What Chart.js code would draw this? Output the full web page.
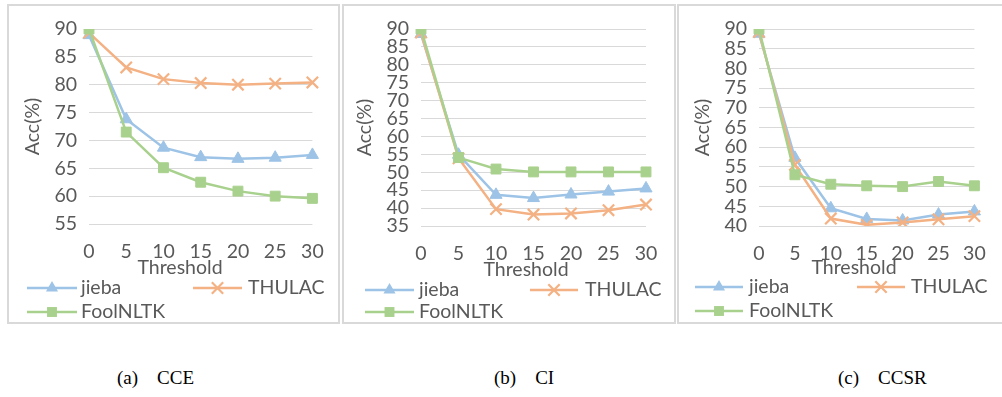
<!DOCTYPE html>
<html>
<head>
<meta charset="utf-8">
<script src="https://cdn.jsdelivr.net/npm/chart.js@4/dist/chart.umd.min.js"></script>
<style>
  html, body { margin: 0; padding: 0; background: #fff; overflow: hidden; width: 1002px; height: 397px; }
  .box { position: absolute; border: 2px solid #d9d9d9; box-sizing: border-box; }
  .wrap { position: absolute; }
  .cap { position: absolute; font-family: "Liberation Serif", "Times New Roman", serif; font-size: 19px; color: #000; white-space: pre; line-height: 22px; }
</style>
</head>
<body>
<div class="box" style="left:7px;top:4px;width:333px;height:320px;"></div>
<div class="box" style="left:342px;top:4px;width:334px;height:320px;"></div>
<div class="box" style="left:677px;top:4px;width:340px;height:320px;"></div>
<div class="wrap" id="w0" style="left:7px;top:4px;width:333px;height:320px;"><canvas id="c0"></canvas></div>
<div class="wrap" id="w1" style="left:342px;top:4px;width:334px;height:320px;"><canvas id="c1"></canvas></div>
<div class="wrap" id="w2" style="left:677px;top:4px;width:325px;height:320px;"><canvas id="c2"></canvas></div>
<div class="cap" style="left:117px;top:367px;">(a)    CCE</div>
<div class="cap" style="left:494px;top:367px;">(b)    CI</div>
<div class="cap" style="left:838px;top:367px;">(c)    CCSR</div>
<script>
// ---------- DATA ----------
const thresholds = ['0', '5', '10', '15', '20', '25', '30'];
const seriesNames = ['jieba', 'THULAC', 'FoolNLTK'];
const xTitle = 'Threshold';
const yTitle = 'Acc(%)';

const cceJieba  = [88.9, 73.8, 68.7, 67.0, 66.7, 66.9, 67.4];
const cceThulac = [89.3, 83.1, 81.0, 80.3, 80.0, 80.2, 80.4];
const cceFool   = [90.0, 71.5, 65.1, 62.5, 60.9, 60.0, 59.6];

const ciJieba   = [88.6, 54.9, 43.7, 42.8, 43.8, 44.6, 45.5];
const ciThulac  = [89.0, 53.9, 39.7, 38.2, 38.5, 39.4, 41.0];
const ciFool    = [90.0, 54.1, 50.9, 50.1, 50.1, 50.1, 50.1];

const ccsrJieba  = [88.8, 57.3, 44.5, 41.8, 41.4, 42.9, 43.7];
const ccsrThulac = [89.2, 55.5, 41.9, 40.3, 40.9, 41.7, 42.5];
const ccsrFool   = [90.0, 53.0, 50.6, 50.2, 50.0, 51.3, 50.2];

const cceTicks  = [55, 60, 65, 70, 75, 80, 85, 90];
const ciTicks   = [35, 40, 45, 50, 55, 60, 65, 70, 75, 80, 85, 90];
const ccsrTicks = [40, 45, 50, 55, 60, 65, 70, 75, 80, 85, 90];

// ---------- STYLE / LAYOUT ----------
const COLORS = ['#9DC3E6', '#F4B183', '#A9D18E'];
const STYLES = ['triangle', 'crossRot', 'rect'];
const ORDERS = [2, 1, 0];
const TEXT = '#595959';
const FONT = 'Lato, "Noto Sans", sans-serif';
const FS = 19.5;
const LH = FS * 1.2;

const panels = [
  { canvas: 'c0', box: {left: 7, top: 4, width: 333, height: 320},
    plot: {left: 89, right: 316, top: 29, bottom: 224}, ticks: cceTicks,
    data: [cceJieba, cceThulac, cceFool], titleX: 33, xTitleX: 180, xTitleY: 268, xLabelY: 251,
    legend: { row1: 288, row2: 312, items: [{x1: 27, x2: 77, tx: 81}, {x1: 193, x2: 242, tx: 248}, {x1: 27, x2: 77, tx: 81}] } },
  { canvas: 'c1', box: {left: 342, top: 4, width: 334, height: 320},
    plot: {left: 421, right: 646, top: 29, bottom: 226}, ticks: ciTicks,
    data: [ciJieba, ciThulac, ciFool], titleX: 365, xTitleX: 526, xTitleY: 270, xLabelY: 253,
    legend: { row1: 290, row2: 312, items: [{x1: 365, x2: 414, tx: 419}, {x1: 530, x2: 578, tx: 585}, {x1: 365, x2: 414, tx: 419}] } },
  { canvas: 'c2', box: {left: 677, top: 4, width: 325, height: 320},
    plot: {left: 759, right: 985, top: 29, bottom: 226}, ticks: ccsrTicks,
    data: [ccsrJieba, ccsrThulac, ccsrFool], titleX: 703, xTitleX: 854, xTitleY: 268, xLabelY: 253,
    legend: { row1: 287, row2: 311, items: [{x1: 695, x2: 743, tx: 749}, {x1: 857, x2: 905, tx: 911}, {x1: 695, x2: 743, tx: 749}] } }
];

function drawMarker(ctx, style, x, y, r, color) {
  ctx.save();
  ctx.fillStyle = color; ctx.strokeStyle = color; ctx.lineWidth = 2.2;
  ctx.beginPath();
  if (style === 'triangle') {
    let rad = 0;
    ctx.moveTo(x + Math.sin(rad) * r, y - Math.cos(rad) * r);
    rad += 2 * Math.PI / 3;
    ctx.lineTo(x + Math.sin(rad) * r, y - Math.cos(rad) * r);
    rad += 2 * Math.PI / 3;
    ctx.lineTo(x + Math.sin(rad) * r, y - Math.cos(rad) * r);
    ctx.closePath(); ctx.fill();
  } else if (style === 'rect') {
    const s = Math.SQRT1_2 * r;
    ctx.rect(x - s, y - s, 2 * s, 2 * s); ctx.fill();
  } else {
    const o = Math.SQRT1_2 * r;
    ctx.moveTo(x - o, y - o); ctx.lineTo(x + o, y + o);
    ctx.moveTo(x - o, y + o); ctx.lineTo(x + o, y - o);
    ctx.stroke();
  }
  ctx.restore();
}

const legendPlugin = {
  id: 'customLegend',
  afterDraw(chart, args, opts) {
    const ctx = chart.ctx;
    const L = opts.legend, bx = opts.box;
    ctx.save();
    ctx.fillStyle = TEXT; ctx.font = FS + 'px ' + FONT;
    ctx.textBaseline = 'middle'; ctx.textAlign = 'center';
    ctx.fillText(xTitle, opts.xTitleX - bx.left, opts.xTitleY - bx.top);
    chart.data.datasets.forEach((ds, i) => {
      const it = L.items[i];
      const y = (i < 2 ? L.row1 : L.row2) - bx.top;
      const x1 = it.x1 - bx.left, x2 = it.x2 - bx.left;
      ctx.strokeStyle = ds.borderColor; ctx.lineWidth = 2.5;
      ctx.beginPath(); ctx.moveTo(x1, y); ctx.lineTo(x2, y); ctx.stroke();
      drawMarker(ctx, ds.pointStyle, (x1 + x2) / 2, y, ds.pointRadius, ds.borderColor);
      ctx.fillStyle = TEXT; ctx.font = FS + 'px ' + FONT;
      ctx.textBaseline = 'middle'; ctx.textAlign = 'left';
      ctx.fillText(ds.label, it.tx - bx.left, y);
    });
    ctx.restore();
  }
};

panels.forEach(p => {
  const b = p.box, pl = p.plot;
  const yWidth = pl.left - b.left;
  const xHeight = p.xTitleY - pl.bottom + LH / 2;
  const padBottom = (b.top + b.height) - pl.bottom - xHeight;
  const datasets = p.data.map((vals, i) => ({
    label: seriesNames[i],
    data: vals,
    borderColor: COLORS[i],
    backgroundColor: COLORS[i],
    borderWidth: 2.5,
    pointStyle: STYLES[i],
    pointRadius: i === 1 ? 8 : 7,
    pointHoverRadius: i === 1 ? 8 : 7,
    pointBorderWidth: i === 1 ? 2.2 : 1,
    order: ORDERS[i],
    tension: 0
  }));
  new Chart(document.getElementById(p.canvas), {
    type: 'line',
    data: { labels: thresholds, datasets },
    plugins: [legendPlugin],
    options: {
      responsive: true, maintainAspectRatio: false, animation: false,
      layout: { padding: { left: 0, top: pl.top - b.top, right: (b.left + b.width) - pl.right, bottom: padBottom } },
      plugins: { legend: { display: false }, tooltip: { enabled: false },
        customLegend: { legend: p.legend, box: b, xTitleX: p.xTitleX, xTitleY: p.xTitleY } },
      scales: {
        x: {
          type: 'category', offset: false,
          grid: { display: false, drawTicks: false },
          border: { display: false },
          ticks: { color: TEXT, font: { family: FONT, size: FS }, padding: p.xLabelY - pl.bottom - FS * 0.55, maxRotation: 0, autoSkip: false },
          title: { display: false },
          afterFit(s) { s.height = xHeight; }
        },
        y: {
          min: p.ticks[0], max: p.ticks[p.ticks.length - 1],
          afterBuildTicks(s) { s.ticks = p.ticks.map(v => ({ value: v })); },
          grid: { color: '#D9D9D9', lineWidth: 1, drawTicks: false },
          border: { display: false },
          ticks: { color: TEXT, font: { family: FONT, size: FS }, padding: 12, autoSkip: false },
          title: { display: true, text: yTitle, color: TEXT, font: { family: FONT, size: FS }, padding: { top: p.titleX - b.left - LH / 2, bottom: 0 } },
          afterFit(s) { s.width = yWidth; }
        }
      }
    }
  });
});
</script>
</body>
</html>
